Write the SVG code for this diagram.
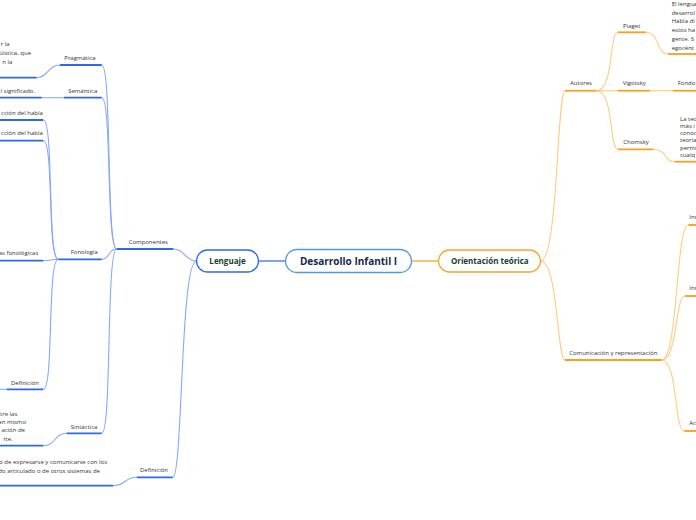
<svg xmlns="http://www.w3.org/2000/svg" width="696" height="520" viewBox="0 0 696 520">
<style>
.bg{fill:#ffffff}
.lbl{font-family:"Open Sans","Noto Sans","Liberation Sans",sans-serif;font-size:6px;fill:#333333}
.lblm{text-anchor:middle}
.lble{text-anchor:end}
.main{font-family:"Open Sans","Noto Sans","Liberation Sans",sans-serif;font-weight:bold;text-anchor:middle}
.cb{fill:none;stroke:#86aaf8;stroke-width:1.1}
.ub{fill:none;stroke:#2d68f2;stroke-width:1.8}
.co{fill:none;stroke:#ffcb80;stroke-width:1.1}
.uo{fill:none;stroke:#f7a11c;stroke-width:1.8}
</style>
<rect class="bg" x="0" y="0" width="696" height="520"/>
<g id="connectors">
  <line x1="258.5" y1="261" x2="285.5" y2="261" stroke="#3b74e8" stroke-width="1.3"/>
  <line x1="411.5" y1="261" x2="438.5" y2="261" stroke="#f7a528" stroke-width="1.3"/>
  <path class="cb" d="M196.5 261 C185 261 185 249 173.3 249"/>
  <path class="cb" d="M196.5 261 C180 261 183 477.3 172.7 477.3"/>
  <path class="cb" d="M116.7 249 C106 249 112 65 101.7 65"/>
  <path class="cb" d="M116.7 249 C106 249 112 97.7 101.7 97.7"/>
  <path class="cb" d="M116.7 249 C108 249 110 259.3 101.7 259.3"/>
  <path class="cb" d="M116.7 249 C106 249 112 433.3 101.7 433.3"/>
  <path class="cb" d="M60 65 C48 65 48 77.7 36.7 77.7"/>
  <path class="cb" d="M64 97.7 L41.7 97.7"/>
  <path class="cb" d="M58.3 259.3 C47 259.3 54 120 43.3 120"/>
  <path class="cb" d="M58.3 259.3 C47 259.3 54 140.7 43.3 140.7"/>
  <path class="cb" d="M58.3 259.3 C50 259.3 51 260.7 43.3 260.7"/>
  <path class="cb" d="M58.3 259.3 C47 259.3 54 389.3 43.3 389.3"/>
  <path class="cb" d="M6.7 389.3 L0 389.3"/>
  <path class="cb" d="M66.7 433.3 C54 433.3 56 445.7 43.3 445.7"/>
  <path class="cb" d="M136.7 477.3 C124 477.3 126 485.7 113.3 485.7"/>
  <path class="co" d="M540.7 261 C558 261 557 90.7 565 90.7"/>
  <path class="co" d="M540.7 261 C558 261 557 360 565 360"/>
  <path class="co" d="M596.7 90.7 C614 90.7 609 32.3 618 32.3"/>
  <path class="co" d="M596.7 90.7 L618 90.7"/>
  <path class="co" d="M596.7 90.7 C614 90.7 609 149.3 618 149.3"/>
  <path class="co" d="M645.7 32.3 C660 32.3 656 54 668 54"/>
  <path class="co" d="M650 90.7 L673 90.7"/>
  <path class="co" d="M653 149.3 C668 149.3 663 161.7 675 161.7"/>
  <path class="co" d="M661.7 360 C678 360 676 225 688.3 225"/>
  <path class="co" d="M661.7 360 C678 360 675 296 685 296"/>
  <path class="co" d="M661.7 360 C678 360 674 431 684.3 431"/>
</g>
<g id="n-center">
  <rect x="285.5" y="249.5" width="126" height="23" rx="11.5" fill="#ffffff" stroke="#4d9bd6" stroke-width="1.3"/>
  <text class="main" x="348.5" y="264.8" font-size="10" fill="#16284a">Desarrollo Infantil I</text>
</g>
<g id="n-lenguaje">
  <rect x="196.5" y="250" width="62" height="22" rx="11" fill="#ffffff" stroke="#2d68f2" stroke-width="1.3"/>
  <text class="main" x="227.5" y="264" font-size="8" fill="#173d2e">Lenguaje</text>
</g>
<g id="n-orientacion">
  <rect x="438.5" y="250" width="102" height="22" rx="11" fill="#ffffff" stroke="#f7a528" stroke-width="1.3"/>
  <text class="main" x="489.8" y="264" font-size="8" fill="#173d2e">Orientación teórica</text>
</g>
<g id="n-componentes">
  <line class="ub" x1="116.7" y1="249" x2="173.3" y2="249"/>
  <text class="lbl lblm" x="148.3" y="243.7">Componentes</text>
</g>
<g id="n-definicion">
  <line class="ub" x1="136.7" y1="477.3" x2="172.7" y2="477.3"/>
  <text class="lbl lblm" x="154" y="472">Definición</text>
</g>
<g id="n-definicion-text">
  <line class="ub" x1="0" y1="485.7" x2="113.3" y2="485.7"/>
  <text class="lbl lble" x="107" y="463.7">o de expresarse y comunicarse con los</text>
  <text class="lbl lble" x="100" y="472.7">do articulado o de otros sistemas de</text>
</g>
<g id="n-pragmatica">
  <line class="ub" x1="60" y1="65" x2="101.7" y2="65"/>
  <text class="lbl lblm" x="80" y="59.7">Pragmática</text>
</g>
<g id="n-pragmatica-text">
  <line class="ub" x1="0" y1="77.7" x2="36.7" y2="77.7"/>
  <text class="lbl lble" x="9.5" y="46.3">r la</text>
  <text class="lbl lble" x="31" y="55.3">üística, que</text>
  <text class="lbl lble" x="12.3" y="63.7">n la</text>
</g>
<g id="n-semantica">
  <line class="ub" x1="64" y1="97.7" x2="101.7" y2="97.7"/>
  <text class="lbl lblm" x="82.7" y="92.7">Semántica</text>
</g>
<g id="n-semantica-text">
  <line class="ub" x1="0" y1="97.7" x2="41.7" y2="97.7"/>
  <text class="lbl lble" x="35" y="92.7">l significado.</text>
</g>
<g id="n-fonologia">
  <line class="ub" x1="58.3" y1="259.3" x2="101.7" y2="259.3"/>
  <text class="lbl lblm" x="84.3" y="253.7">Fonología</text>
</g>
<g id="n-habla1">
  <line class="ub" x1="0" y1="120" x2="43.3" y2="120"/>
  <text class="lbl lble" x="42.8" y="114.7">cción del habla</text>
</g>
<g id="n-habla2">
  <line class="ub" x1="0" y1="140.7" x2="43.3" y2="140.7"/>
  <text class="lbl lble" x="42.8" y="135.3">cción del habla</text>
</g>
<g id="n-fonologicas">
  <line class="ub" x1="0" y1="260.7" x2="43.3" y2="260.7"/>
  <text class="lbl lble" x="38.3" y="255.3">as fonológicas</text>
</g>
<g id="n-definicion2">
  <line class="ub" x1="6.7" y1="389.3" x2="43.3" y2="389.3"/>
  <text class="lbl lblm" x="25" y="384.7">Definición</text>
</g>
<g id="n-sintactica">
  <line class="ub" x1="66.7" y1="433.3" x2="101.7" y2="433.3"/>
  <text class="lbl lblm" x="84" y="428.7">Sintáctica</text>
</g>
<g id="n-sintactica-text">
  <line class="ub" x1="0" y1="445.7" x2="43.3" y2="445.7"/>
  <text class="lbl lble" x="17.3" y="416">tre las</text>
  <text class="lbl lble" x="26" y="424">an mismo</text>
  <text class="lbl lble" x="25" y="432.4">ación de</text>
  <text class="lbl lble" x="12.7" y="440.5">rte.</text>
</g>
<g id="n-autores">
  <line class="uo" x1="565" y1="90.7" x2="596.7" y2="90.7"/>
  <text class="lbl lblm" x="581" y="85.3">Autores</text>
</g>
<g id="n-piaget">
  <line class="uo" x1="618" y1="32.3" x2="645.7" y2="32.3"/>
  <text class="lbl lblm" x="631.7" y="27.7">Piaget</text>
</g>
<g id="n-piaget-text">
  <line class="uo" x1="668" y1="54" x2="696" y2="54"/>
  <text class="lbl" x="671.7" y="6">El lengua</text>
  <text class="lbl" x="671.7" y="14.7">desarrol</text>
  <text class="lbl" x="671.7" y="23.4">Habla di</text>
  <text class="lbl" x="671.7" y="32.1">estos ha</text>
  <text class="lbl" x="671.7" y="40.8">gente. S</text>
  <text class="lbl" x="671.7" y="49.5">egocént</text>
</g>
<g id="n-vigotsky">
  <line class="uo" x1="618" y1="90.7" x2="650" y2="90.7"/>
  <text class="lbl lblm" x="634.3" y="85.3">Vigotsky</text>
</g>
<g id="n-fondo">
  <line class="uo" x1="673" y1="90.7" x2="696" y2="90.7"/>
  <text class="lbl" x="677.7" y="85.3">Fondo</text>
</g>
<g id="n-chomsky">
  <line class="uo" x1="618" y1="149.3" x2="653" y2="149.3"/>
  <text class="lbl lblm" x="636" y="143.7">Chomsky</text>
</g>
<g id="n-chomsky-text">
  <line class="uo" x1="675" y1="161.7" x2="696" y2="161.7"/>
  <text class="lbl" x="680" y="120.5">La teo</text>
  <text class="lbl" x="680" y="127.8">más i</text>
  <text class="lbl" x="680" y="135.1">conoc</text>
  <text class="lbl" x="680" y="142.4">teoría</text>
  <text class="lbl" x="680" y="149.7">permi</text>
  <text class="lbl" x="680" y="157">cualq</text>
</g>
<g id="n-comunicacion">
  <line class="uo" x1="565" y1="360" x2="661.7" y2="360"/>
  <text class="lbl lblm" x="613.3" y="355.3">Comunicación y representación</text>
</g>
<g id="n-inn1">
  <line class="uo" x1="688.3" y1="225" x2="696" y2="225"/>
  <text class="lbl" x="689.3" y="218.7">Inn</text>
</g>
<g id="n-inn2">
  <line class="uo" x1="685" y1="296" x2="696" y2="296"/>
  <text class="lbl" x="689.3" y="290.3">Inn</text>
</g>
<g id="n-ac">
  <line class="uo" x1="684.3" y1="431" x2="696" y2="431"/>
  <text class="lbl" x="689.3" y="425.3">Ac</text>
</g>
</svg>
